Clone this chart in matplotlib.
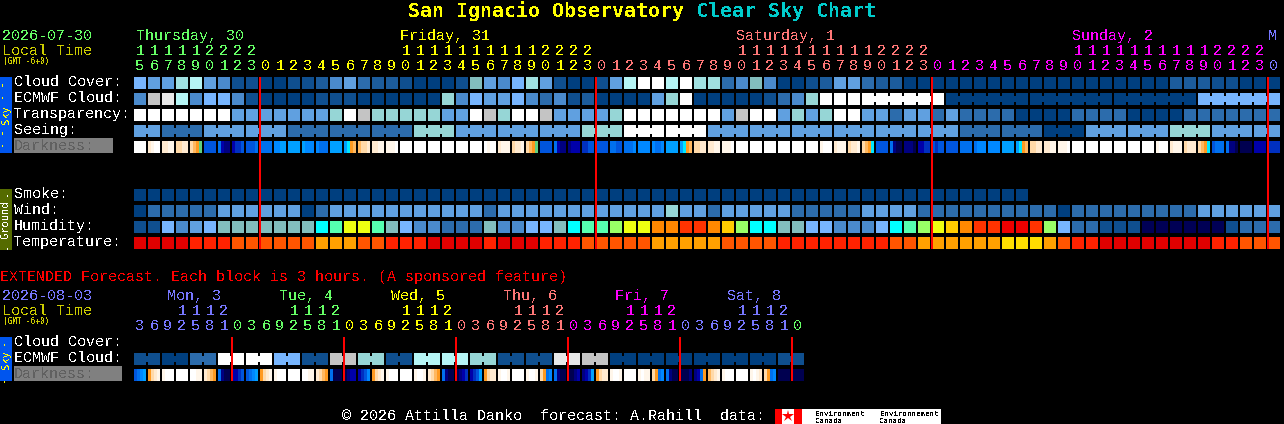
import matplotlib
matplotlib.use("Agg")
import matplotlib.pyplot as plt
from matplotlib.patches import Rectangle

plt.rcParams['font.family'] = ['Liberation Mono', 'DejaVu Sans Mono']
plt.rcParams['text.antialiased'] = False

# ---------- data ----------
hours_main = [15,16,17,18,19,20,21,22,23] + list(range(24)) + list(range(24)) + list(range(24)) + [0]
hours_ext = [3,6,9,12,15,18,21] + [0,3,6,9,12,15,18,21]*5 + [0]
day_labels_main = ["Thursday, 30", "Friday, 31", "Saturday, 1", "Sunday, 2", "M"]
day_label_cols = [0.15, 19, 43, 67, 81]
day_labels_ext = ["Mon, 3", "Tue, 4", "Wed, 5", "Thu, 6", "Fri, 7", "Sat, 8"]
midnight_cols_main = [9, 33, 57, 81]
midnight_cols_ext = [7, 15, 23, 31, 39, 47]

cloud_cover = "gffqwfebb" "aabbcefdccba" "aabkfegqfbaa" "bfwWWwWqq" "dekeaabcffdccaa" + "a"*17 + "cccbb" + "aaa"
ecmwf = "eylweggeb" "aaaabbbaaaaa" "ategffgedebc" "aaaaftWaa" "aaabdetWWW" + "W"*6 + "a"*18 + "g"*6
transparency = ("W"*7 + "f"*7 + "tWy" + "t"*5 + "ffWytWWy" + "f"*4 + "t" + "W"*7 + "fyWWftftWWffdffdf"
                + "d"*4 + "a"*4 + "d"*4 + "a"*4 + "d"*7)
seeing = ("ff" "ddd" "fff" "fff" "ddd" "ddd" "ddd" "ttt" "fff" "fff" "fff" "ttt" "WWW" "WWW" "fff" "fff" "fff"
          "fff" "fff" "fff" "ddd" "ddd" "aaa" "fff" "fff" "ttt" "fff" "ff")
smoke = "a"*64
wind = "a" + "d"*5 + "f"*6 + "a" + "d" + "f"*11 + "d" + "f"*12 + "t" + "ff" + "d" + "f"*5 + "d"*5 + "f"*4 + "d"*10 + "a" + "d"*9 + "f"*6
humidity = ("bbgefg" + "k"*7 + "CMYYMkge" + "edddkeeggkCMMLYYRRSSROLCCkkggeeegCMLYORSSXXSLgddbbb" + "N"*6 + "bddd")
temperature = ("1111" "222" "333333" "444" "33" "222" "1111" "2" "111" "222" "33333" "44444" "3333" "22222222"
               "33" "444444" "555" "4" "3" "22" "11111111" "22" "333")

# four samples across each hourly darkness block
darkness = ("0000 2100 2211 3322 345G AAAA 9CDD CBBA AAA9 9999 8877 7777 7888 8999 7777 7H54 4332 2211 1110 0000 "
            "0000 0000 0000 0000 0000 0100 2111 3221 345G AAAA 9CDD DCCC BBAA AAAA 99AA 9998 8888 8998 7777 7H54 "
            "3322 2211 1110 0000 0000 0000 0000 0000 0000 1000 2111 3221 345H AAAA 9DEE DDDE CCBB ABAA AAAA 9999 "
            "9888 8888 7777 7H54 3322 2211 1110 0000 0000 0000 0000 0000 0000 1000 2111 3222 345H A999 9DDE EEEE "
            "CCCC BBBB").split()
ext_cloud = "badWWgbytbwwtbblyaaaaaab"
ext_darkness = ("A987 5321 1000 0000 0011 2345 9DEE CCBA A987 5321 1000 0000 0011 2345 9EEE EDCC CBA8 5321 1000 0000 "
                "1001 2345 9DEE EDCB CBA7 5322 1001 0000 1001 3598 9DEE EEDC DCB7 5322 1001 0000 1011 3598 9DEE EEED "
                "DC95 4321 1000 0000 1012 3598 EEEE EEEE").split()

# ---------- styles ----------
palette = {
    'a': '#003F7F', 'b': '#0F4F8F', 'c': '#1C5C9C', 'd': '#2C6CAC', 'e': '#4A8ACC', 'f': '#60A0E0',
    'g': '#77B5FE', 't': '#96D6D6', 'k': '#82BEBE', 'q': '#A0E0E0', 'w': '#B5F5F5', 'y': '#C4C4C4',
    'l': '#E8E8E8', 'W': '#FFFFFF', 'C': '#00FFFF', 'M': '#55FFB0', 'L': '#99FF66', 'Y': '#EEFF11',
    'O': '#FFCC00', 'R': '#FF8800', 'S': '#FF3300', 'X': '#EE0000', 'N': '#000055',
    '1': '#E00000', '2': '#FF2200', '3': '#FF5500', '4': '#FFA000', '5': '#FFDD00',
}
dark_palette = {
    '0': '#FFFFFF', '1': '#FFF6EA', '2': '#FFEAD0', '3': '#FFD9A8', '4': '#FFB860', '5': '#FF9A20',
    'G': '#60D080', 'H': '#00E8FF', '7': '#00A0FF', '8': '#0088FF', '9': '#0070EE', 'A': '#0055DD',
    'B': '#0030C0', 'C': '#0000AA', 'D': '#000080', 'E': '#000050',
}
GREEN, YELLOW, TAN, MAGENTA, BLUE = '#66FF66', '#FFFF00', '#FF7777', '#FF00FF', '#7777FF'
SMALL = 'DejaVu Sans Mono'

X0, PITCH, CELL = 134, 14, 12
fig = plt.figure(figsize=(12.84, 4.24), dpi=100, facecolor='black')
ax = fig.add_axes([0, 0, 1, 1])
ax.set_xlim(0, 1284)
ax.set_ylim(424, 0)
ax.axis('off')


def rect(x, y, w, h, c, z=2):
    ax.add_patch(Rectangle((x, y), w, h, facecolor=c, edgecolor='none', linewidth=0, antialiased=False,
                           snap=False, zorder=z))


def cells(codes, y, merged=()):
    for i, code in enumerate(codes):
        rect(X0 + PITCH * i, y, CELL, CELL, palette[code])
        if i in merged:
            rect(X0 + PITCH * i + CELL, y + 3, PITCH - CELL, CELL - 6, palette[code])


def dark_cells(samples, y):
    for i, cell in enumerate(samples):
        for k, code in enumerate(cell):
            rect(X0 + PITCH * i + 3 * k, y, 3, CELL, dark_palette[code])


def txt(x, y, s, c='white', size=10.8, **kw):
    ax.text(x, y, s, color=c, fontsize=size, va='baseline', ha=kw.pop('ha', 'left'), zorder=5, **kw)


# title
txt(408, 17, "San Ignacio Observatory", YELLOW, 14.4, fontweight='bold', family=SMALL)
txt(696, 17, "Clear Sky Chart", '#00CCCC', 14.4, fontweight='bold', family=SMALL)

# main header
txt(2, 40, "2026-07-30", GREEN)
txt(2, 55, "Local Time", '#CCCC00')
txt(3, 64, "(GMT -6+0)", '#CCCC00', 5.6, family=SMALL)
day_colors = [GREEN, YELLOW, TAN, MAGENTA, BLUE]
for lab, col, c in zip(day_labels_main, day_label_cols, day_colors):
    txt(X0 + PITCH * col, 40, lab, c)
ci = 0
for i, h in enumerate(hours_main):
    if i and h == 0:
        ci += 1
    cx = X0 + PITCH * i + 6
    if h >= 10:
        txt(cx, 55, str(h // 10), day_colors[ci], ha='center')
    txt(cx, 70, str(h % 10), day_colors[ci], ha='center')

# main rows
cells(cloud_cover, 77)
cells(ecmwf, 93, merged=[i for i in range(52, 81) if (i - 52) % 6 != 5])
cells(transparency, 109)
cells(seeing, 125, merged=[i for i in range(81) if (i - 1) % 3 != 0])
dark_cells(darkness, 141)
cells(smoke, 189)
cells(wind, 205)
cells(humidity, 221)
cells(temperature, 237)

for lab, y in zip(["Cloud Cover:", "ECMWF Cloud:", "Transparency:", "Seeing:"], [86, 102, 118, 134]):
    txt(14, y, lab)
rect(14, 138, 99, 15, '#808080', 1)
txt(14, 150, "Darkness:", '#606060')
for lab, y in zip(["Smoke:", "Wind:", "Humidity:", "Temperature:"], [198, 214, 230, 246]):
    txt(14, y, lab)

# side bars
rect(0, 77, 12, 76, '#0055EE', 1)
txt(6, 91, "- -", YELLOW, 7.5, rotation=90, rotation_mode='anchor', ha='center', family=SMALL)
txt(9, 115, "Sky", YELLOW, 7.5, rotation=90, rotation_mode='anchor', ha='center', family=SMALL)
txt(6, 139, "- -", YELLOW, 7.5, rotation=90, rotation_mode='anchor', ha='center', family=SMALL)
rect(0, 189, 12, 61, '#556B00', 1)
txt(9, 219, "Ground", 'white', 7.5, rotation=90, rotation_mode='anchor', ha='center', family=SMALL)
txt(9, 193, "-", 'white', 7.5, rotation=90, rotation_mode='anchor', ha='center', family=SMALL)
txt(9, 246, "-", 'white', 7.5, rotation=90, rotation_mode='anchor', ha='center', family=SMALL)

for c in midnight_cols_main:
    rect(X0 + PITCH * c - 1, 77, 2, 172, '#FF0000', 4)

# extended
txt(0, 281, "EXTENDED Forecast. Each block is 3 hours. (A sponsored feature)", '#FF0000')
txt(2, 300, "2026-08-03", BLUE)
txt(2, 315, "Local Time", '#CCCC00')
txt(3, 324, "(GMT -6+0)", '#CCCC00', 5.6, family=SMALL)
ext_colors = [BLUE, GREEN, YELLOW, TAN, MAGENTA, BLUE, GREEN]
for k, (lab, c) in enumerate(zip(day_labels_ext, ext_colors)):
    txt(167 + 112 * k, 300, lab, c)
ci = 0
for i, h in enumerate(hours_ext):
    if i and h == 0:
        ci += 1
    cx = X0 + PITCH * i + 6
    if h >= 10:
        txt(cx, 315, str(h // 10), ext_colors[ci], ha='center')
    txt(cx, 330, str(h % 10), ext_colors[ci], ha='center')

for i, code in enumerate(ext_cloud):
    x = X0 + 2 * PITCH * i
    rect(x, 353, CELL, CELL, palette[code])
    rect(x + PITCH, 353, CELL, CELL, palette[code])
    rect(x + CELL, 356, PITCH - CELL, CELL - 6, palette[code])
dark_cells(ext_darkness, 369)

txt(14, 346, "Cloud Cover:")
txt(14, 362, "ECMWF Cloud:")
rect(14, 366, 108, 15, '#808080', 1)
txt(14, 378, "Darkness:", '#606060')
rect(0, 337, 12, 44, '#0055EE', 1)
txt(9, 360, "Sky", YELLOW, 7.5, rotation=90, rotation_mode='anchor', ha='center', family=SMALL)
txt(6, 342, "-", YELLOW, 7.5, rotation=90, rotation_mode='anchor', ha='center', family=SMALL)
txt(6, 379, "-", YELLOW, 7.5, rotation=90, rotation_mode='anchor', ha='center', family=SMALL)
for c in midnight_cols_ext:
    rect(X0 + PITCH * c - 1, 337, 2, 44, '#FF0000', 4)

# footer
txt(342, 420, "\u00a9 2026 Attilla Danko  forecast: A.Rahill  data:")
rect(775, 409, 166, 15, '#FFFFFF', 1)
rect(775, 409, 7, 15, '#FF0000', 2)
rect(794, 409, 8, 15, '#FF0000', 2)
ax.plot([788], [416], marker='*', ms=9, color='#FF0000', mew=0, zorder=3)
for x, lab in [(815, "Environment"), (880, "Environnement")]:
    txt(x, 416, lab, 'black', 5.4, family=SMALL)
    txt(x, 423, "Canada", 'black', 5.4, family=SMALL)

fig.savefig("out.png", dpi=100, facecolor='black')
